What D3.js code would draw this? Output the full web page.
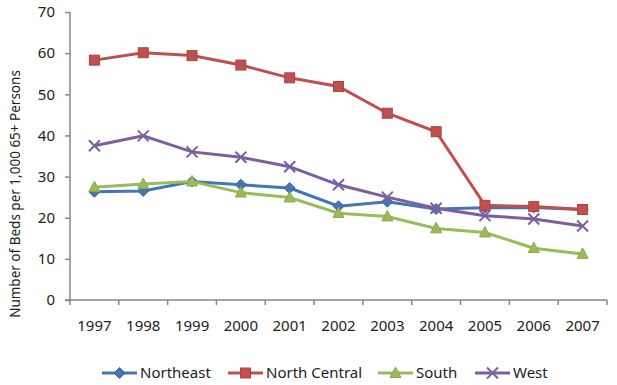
<!DOCTYPE html>
<html>
<head>
<meta charset="utf-8">
<script src="https://cdn.jsdelivr.net/npm/d3@7"></script>
<style>
  body { margin: 0; background: #fff; }
  text { font-family: "Noto Sans", sans-serif; fill: #222; }
</style>
</head>
<body>
<svg></svg>
<script>
let years = ["1997", "1998", "1999", "2000", "2001", "2002", "2003", "2004", "2005", "2006", "2007"];
let northeast = [26.3, 26.5, 28.8, 28.0, 27.2, 22.8, 23.9, 22.1, 22.4, 22.5, 22.0];
let northCentral = [58.3, 60.1, 59.4, 57.1, 54.0, 51.9, 45.4, 40.9, 23.0, 22.7, 22.0];
let south = [27.4, 28.2, 28.8, 26.1, 24.9, 21.1, 20.3, 17.4, 16.4, 12.6, 11.2];
let west = [37.5, 39.9, 36.0, 34.7, 32.4, 28.0, 25.0, 22.3, 20.5, 19.7, 18.0];
let yTicks = [0, 10, 20, 30, 40, 50, 60, 70];

let width = 617;
let height = 385;
let plotLeft = 70, plotRight = 607, plotTop = 12, plotBottom = 300;
let svg = d3.select('svg').attr('width', width).attr('height', height);

let series = [
    {name: "Northeast", values: northeast, color: "#4376b5", marker: "diamond"},
    {name: "North Central", values: northCentral, color: "#c0504d", marker: "square"},
    {name: "South", values: south, color: "#9bbb59", marker: "triangle"},
    {name: "West", values: west, color: "#7c5fa0", marker: "x"}
];

let xScale = d3.scaleBand().domain(years).range([plotLeft, plotRight]);
let yScale = d3.scaleLinear().domain([0, 70]).range([plotBottom, plotTop]);

// axes
let xAxis = d3.axisBottom(xScale).tickSize(0).tickPadding(20);
let gx = svg.append('g')
    .attr('transform', "translate(0, " + plotBottom + ")")
    .call(xAxis);
gx.select('.domain').remove();
gx.selectAll('text').style('font-size', '15px');
gx.append('line')
  .attr('x1', plotLeft - 5).attr('x2', plotRight).attr('y1', 0).attr('y2', 0)
  .attr('stroke', '#878787').attr('stroke-width', 1.5);
gx.selectAll('line.b')
  .data(years.concat(["end"]))
  .enter().append('line')
  .attr('class', 'b')
  .attr('x1', (d, i) => plotLeft + i * xScale.step())
  .attr('x2', (d, i) => plotLeft + i * xScale.step())
  .attr('y1', 0).attr('y2', 5)
  .attr('stroke', '#878787').attr('stroke-width', 1.5);

let yAxis = d3.axisLeft(yScale).tickValues(yTicks).tickSize(5).tickPadding(10);
let gy = svg.append('g')
    .attr('transform', "translate(" + plotLeft + ", 0)")
    .call(yAxis);
gy.select('.domain').attr('stroke', '#878787').attr('stroke-width', 1.5).attr('d', "M0," + plotTop + "V" + plotBottom);
gy.selectAll('.tick line').attr('stroke', '#878787').attr('stroke-width', 1.5);
gy.selectAll('text').style('font-size', '15px');

svg.append('text')
   .attr('transform', "translate(20, 194) rotate(-90)")
   .attr('text-anchor', 'middle')
   .style('font-size', '13.5px')
   .text("Number of Beds per 1,000 65+ Persons");

// markers
const drawMarker = (g, type, color, x, y, s) => {
    if (type === "diamond") {
        g.append('path').attr('d', `M${x},${y - s}L${x + s},${y}L${x},${y + s}L${x - s},${y}Z`)
         .attr('fill', color).attr('stroke', d3.color(color).darker(0.4));
    } else if (type === "square") {
        g.append('rect').attr('x', x - s).attr('y', y - s).attr('width', 2 * s).attr('height', 2 * s)
         .attr('fill', color).attr('stroke', d3.color(color).darker(0.4));
    } else if (type === "triangle") {
        g.append('path').attr('d', `M${x},${y - s * 1.1}L${x + s},${y + s * 0.8}L${x - s},${y + s * 0.8}Z`)
         .attr('fill', color).attr('stroke', d3.color(color).darker(0.3));
    } else {
        g.append('path').attr('d', `M${x - s},${y - s}L${x + s},${y + s}M${x - s},${y + s}L${x + s},${y - s}`)
         .attr('stroke', color).attr('stroke-width', 2).attr('fill', 'none');
    }
};

let line = d3.line()
    .x((d, i) => xScale(years[i]) + xScale.bandwidth() / 2)
    .y((d) => yScale(d));

series.forEach((s) => {
    let g = svg.append('g');
    g.append('path')
     .attr('d', line(s.values))
     .attr('fill', 'none')
     .attr('stroke', s.color)
     .attr('stroke-width', 3);
    s.values.forEach((v, i) => {
        drawMarker(g, s.marker, s.color, xScale(years[i]) + xScale.bandwidth() / 2, yScale(v), s.marker === "square" ? 5 : 5.5);
    });
});

// legend
let legendX = [102, 228, 378, 475];
series.forEach((s, i) => {
    let g = svg.append('g');
    let x0 = legendX[i], y0 = 373;
    g.append('line').attr('x1', x0).attr('x2', x0 + 35).attr('y1', y0).attr('y2', y0)
     .attr('stroke', s.color).attr('stroke-width', 3);
    drawMarker(g, s.marker, s.color, x0 + 17.5, y0, s.marker === "square" ? 5 : 5.5);
    g.append('text').attr('x', x0 + 38).attr('y', y0 + 5)
     .style('font-size', '15px')
     .text(s.name);
});
</script>
</body>
</html>
